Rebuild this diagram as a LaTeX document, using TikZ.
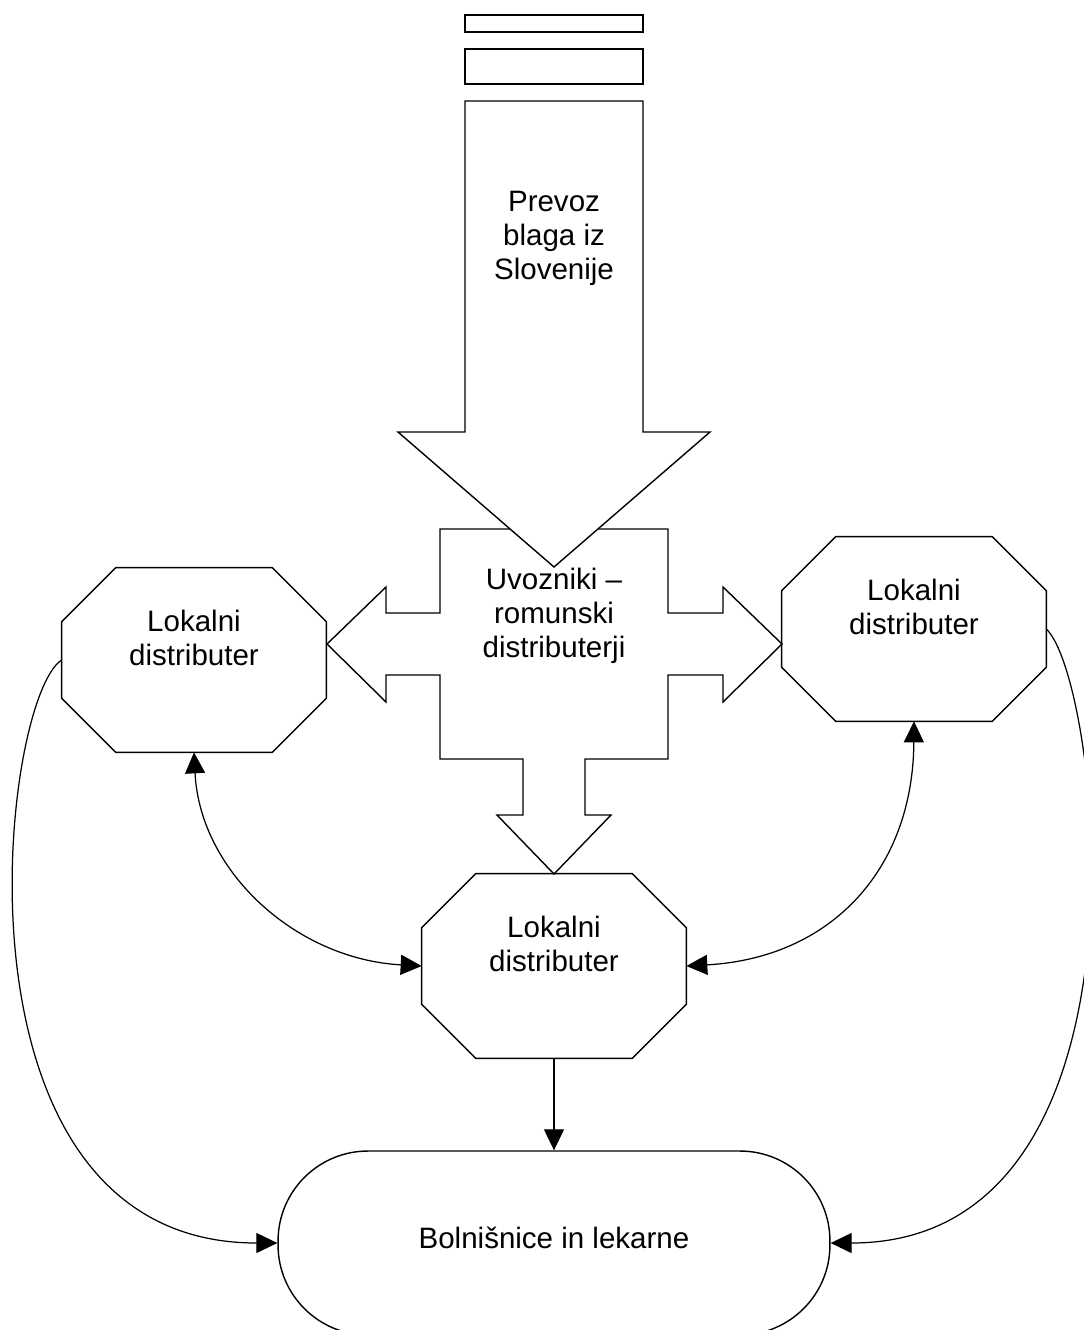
\documentclass[tikz,border=0pt]{standalone}
\usepackage{fontspec}
\setmainfont{Liberation Sans}
\usetikzlibrary{arrows.meta}

% octagon outline round a named node
\newcommand{\chamf}{1.08cm}
\newcommand{\drawocta}[1]{%
  \draw[blockline] ([xshift=\chamf]#1.north west) -- ([xshift=-\chamf]#1.north east)
    -- ([yshift=-\chamf]#1.north east) -- ([yshift=\chamf]#1.south east)
    -- ([xshift=-\chamf]#1.south east) -- ([xshift=\chamf]#1.south west)
    -- ([yshift=\chamf]#1.south west) -- ([yshift=-\chamf]#1.north west) -- cycle;}

\begin{document}
\begin{tikzpicture}[
  x=0.02cm, y=-0.02cm,
  font=\fontsize{16.8}{19.4}\selectfont,
  blockline/.style={line width=0.8pt, draw=black, line join=miter},
  octa/.style={
    rectangle, inner sep=0pt,
    minimum width=5.28cm, minimum height=3.68cm,
    align=center
  },
  stadium/.style={
    rectangle, draw, line width=0.8pt,
    rounded corners=1.8cm, text depth=0.2cm,
    minimum width=11.04cm, minimum height=3.68cm
  },
  link/.style={-{Triangle[length=0.42cm, width=0.4cm]}, line width=0.7pt},
  twoway/.style={{Triangle[length=0.42cm, width=0.4cm]}-{Triangle[length=0.42cm, width=0.4cm]}, line width=0.7pt}
]
\useasboundingbox (0,0) rectangle (1083,1330);

% four-way block arrow
\draw[blockline, fill=white] (440,529) -- (668,529) -- (668,613) -- (723,613) -- (723,587)
  -- (782,644) -- (723,702) -- (723,675) -- (668,675) -- (668,759) -- (585,759)
  -- (585,815) -- (611,815) -- (554,874) -- (497,815) -- (523,815) -- (523,759)
  -- (440,759) -- (440,675) -- (386,675) -- (386,702) -- (327,644) -- (386,587)
  -- (386,613) -- (440,613) -- cycle;

% incoming block arrow
\draw[blockline] (465,15) rectangle (643,32);
\draw[blockline] (465,49) rectangle (643,84);
\draw[blockline, fill=white] (465,101) -- (643,101) -- (643,432) -- (710,432)
  -- (554,567) -- (398,432) -- (465,432) -- cycle;

\node[align=center] (prevoz) at (554,238) {Prevoz\\blaga iz\\Slovenije};
\node[align=center] (uvoz) at (554,616) {Uvozniki –\\romunski\\distributerji};

\node[octa] (lw)  at (194,660) {Lokalni\\distributer\\[0.2cm]\mbox{}};
\node[octa] (rw)  at (914,629) {Lokalni\\distributer\\[0.2cm]\mbox{}};
\node[octa] (bot) at (554,966) {Lokalni\\distributer\\[0.2cm]\mbox{}};
\drawocta{lw}
\drawocta{rw}
\drawocta{bot}

\node[stadium] (hosp) at (554,1243) {Bolnišnice in lekarne};

\draw[link] (bot.south) -- (hosp.north);
\draw[twoway] (lw.south) .. controls +(6,119) and +(-126,-7) .. (bot.west);
\draw[twoway] (rw.south) .. controls +(-1,149) and +(144,-8) .. (bot.east);
\draw[link] (lw.west) .. controls +(-62,40) and +(-338,0) .. (hosp.west);
\draw[link] (rw.east) .. controls +(54,51) and +(335,0) .. (hosp.east);

\end{tikzpicture}
\end{document}
